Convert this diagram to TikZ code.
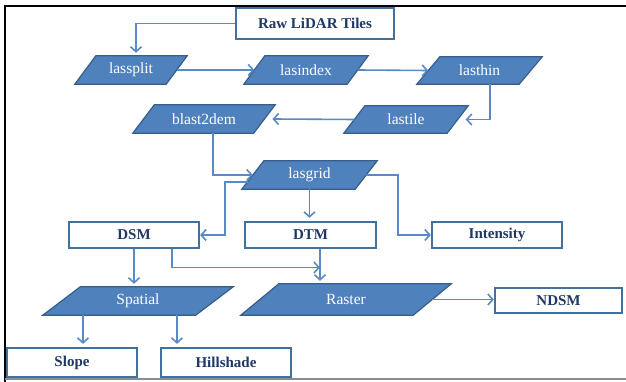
\documentclass[tikz,border=0pt]{standalone}
\usepackage{fontspec}
\setmainfont{Liberation Serif}
\usetikzlibrary{arrows.meta,backgrounds}
\definecolor{pfill}{HTML}{4F81BD}
\definecolor{pline}{HTML}{385D8A}
\definecolor{bline}{HTML}{41719C}
\definecolor{btext}{HTML}{1F3864}
\definecolor{cline}{HTML}{5A8AC6}
\begin{document}
\begin{tikzpicture}[x=1pt,y=-1pt,
  ptext/.style={inner sep=0pt, text=white, font=\fontsize{15.5}{18}\selectfont},
  boxnode/.style={draw=bline, line width=2.2pt, fill=white, inner sep=0pt,
    minimum width=130pt, minimum height=26pt, text=btext,
    font=\fontsize{15}{18}\selectfont\bfseries},
  conn/.style={draw=cline, line width=1.6pt, -{Straight Barb[length=5pt,width=11pt]}},
  downconn/.style={conn, shorten >=3pt}
]
\useasboundingbox (0,0) rectangle (626,382);

% boxes
\node[boxnode, minimum width=158pt, minimum height=31pt] (raw) at (315,23.5) {Raw LiDAR Tiles};
\node[boxnode] (dsm) at (134,235) {DSM};
\node[boxnode, minimum width=131pt] (dtm) at (310.5,235) {DTM};
\node[boxnode] (intensity) at (497,235) {Intensity};
\node[boxnode, minimum width=127pt, minimum height=25pt] (ndsm) at (558.5,300.5) {NDSM};
\node[boxnode, minimum height=29pt] (slope) at (72,362.5) {Slope};
\node[boxnode, minimum height=29pt] (hillshade) at (226,362.5) {Hillshade};

% parallelogram texts
\node[ptext, minimum width=91pt, minimum height=28pt] (lassplit) at (131,70) {lassplit};
\node[ptext, minimum width=103pt, minimum height=28pt] (lasindex) at (306,70) {lasindex};
\node[ptext, minimum width=102pt, minimum height=27pt] (lasthin) at (479.5,70.5) {lasthin};
\node[ptext, minimum width=120.5pt, minimum height=28pt] (blast2dem) at (204,119) {blast2dem};
\node[ptext, minimum width=103pt, minimum height=27pt] (lastile) at (406,119.5) {lastile};
\node[ptext, minimum width=113pt, minimum height=28pt] (lasgrid) at (309.5,175) {lasgrid};
\node[ptext, minimum width=152.5pt, minimum height=28pt] (spatial) at (138,301) {Spatial};
\node[ptext, minimum width=172pt, minimum height=31pt] (raster) at (346,299.5) {Raster};

\begin{scope}[on background layer]
\foreach \n/\s in {lassplit/10.5, lasindex/10.5, lasthin/11.5, blast2dem/10.75,
                   lastile/10.5, lasgrid/11, spatial/18.75, raster/19}{
  \filldraw[fill=pfill, draw=pline, line width=1.2pt]
    ([xshift=-\s pt]\n.south west) -- ([xshift=\s pt]\n.north west) --
    ([xshift=\s pt]\n.north east) -- ([xshift=-\s pt]\n.south east) -- cycle;
}
\end{scope}

% connectors
\draw[downconn] (raw.west) -| ([xshift=5pt]lassplit.north);
\draw[conn] (lassplit.east) -- (lasindex.west);
\draw[conn] (lasindex.east) -- (lasthin.west);
\draw[conn] ([xshift=10.5pt]lasthin.south) |- ([xshift=8pt]lastile.east);
\draw[conn] (lastile.west) -- ([xshift=8pt]blast2dem.east);
\draw[conn] ([xshift=9pt]blast2dem.south) |- (lasgrid.west);
\coordinate (j1) at (225,182);
\draw[conn] ([shift={(-5pt,-7pt)}]lasgrid.west) -- (j1) |- (dsm.east);
\draw[downconn] (lasgrid.south) -- (lasgrid.south |- dtm.north);
\coordinate (j2) at (398,175);
\draw[conn] (lasgrid.east) -- (j2) |- (intensity.west);
\draw[downconn] (dsm.south) -- (dsm.south |- spatial.north);
\coordinate (d1) at ([xshift=9.5pt]dtm.south);
\coordinate (j3) at (320,267.5);
\draw[conn] ([xshift=38pt]dsm.south) |- (j3);
\draw[downconn] (d1) -- (d1 |- raster.north);
\draw[conn] (raster.east) -- (raster.east -| ndsm.west);
\coordinate (s1) at ([xshift=-55pt]spatial.south);
\coordinate (s2) at ([xshift=39pt]spatial.south);
\draw[downconn] (s1) -- (s1 |- slope.north);
\draw[downconn] (s2) -- (s2 |- hillshade.north);

% frame
\draw[black, line width=2pt] (5,382) -- (5,6) -- (626,6);
\draw[black!45, line width=1.5pt] (5,379) -- (626,379);
\end{tikzpicture}
\end{document}
